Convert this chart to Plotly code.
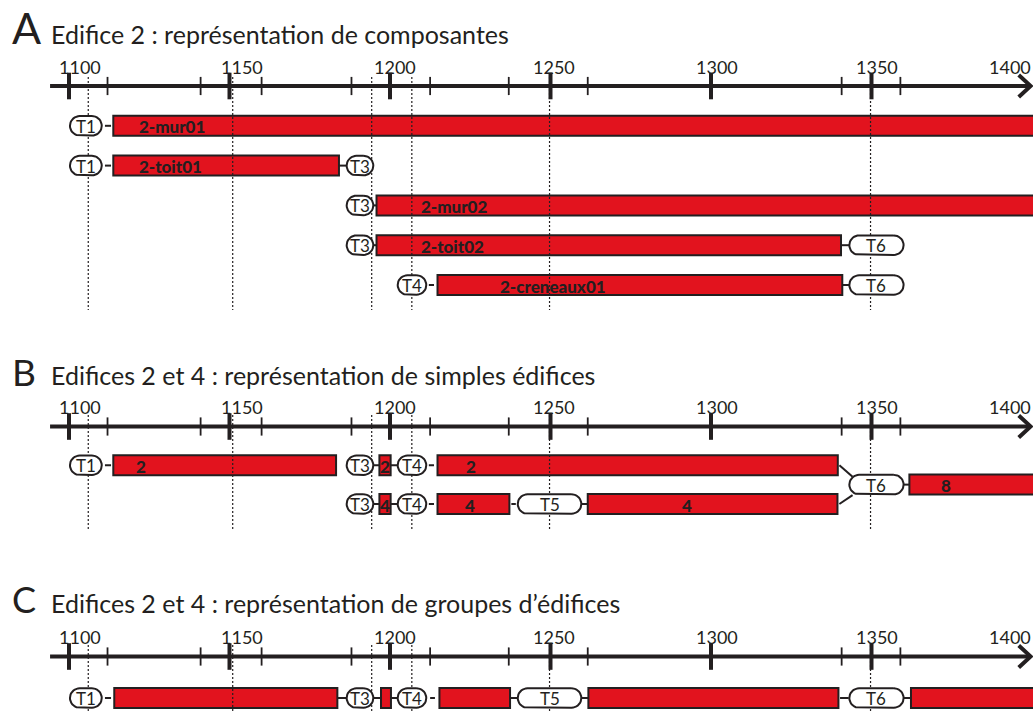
import numpy as np
import plotly.graph_objects as go

INK = "#231F20"
RED = "#E2131E"
FONT = "Lato"
W, H = 1033, 711

# ---------------- data ----------------
major_tick_years = [1100, 1150, 1200, 1250, 1300, 1350]
minor_tick_years = [1112, 1141, 1160, 1188, 1212.5, 1237, 1261.6, 1340.7, 1359]
tick_labels = ["1100", "1150", "1200", "1250", "1300", "1350", "1400"]
tick_label_years = [1103.4, 1153.9, 1201.6, 1251.1, 1301.8, 1351.6, 1393.0]
reference_years = [1106, 1151, 1194.3, 1206.8, 1249.7, 1349.7]
axis_start_year = 1094.1
axis_end_year = 1399.6

pill_names = ["T1", "T3", "T4", "T5", "T6"]
pill_start = [1100.3, 1186.5, 1202.4, 1239.8, 1343.1]
pill_end = [1110.2, 1194.8, 1211.3, 1259.6, 1360.0]

panel_letters = ["A", "B", "C"]
panel_titles = [
    "Edifice 2 : représentation de composantes",
    "Edifices 2 et 4 : représentation de simples édifices",
    "Edifices 2 et 4 : représentation de groupes d’édifices",
]

# Panel A : components of building 2
a_bar_rows = [1, 2, 3, 4, 5]
a_bar_start = [1113.8, 1113.8, 1195.8, 1195.8, 1214.8]
a_bar_end = [1420, 1184.1, 1420, 1340.5, 1340.9]
a_bar_labels = ["2-mur01", "2-toit01", "2-mur02", "2-toit02", "2-creneaux01"]
a_label_years = [1121.1, 1121.1, 1208.9, 1208.9, 1233.5]
a_pill_rows = [1, 2, 2, 3, 4, 4, 5, 5]
a_pill_names = ["T1", "T1", "T3", "T3", "T3", "T6", "T4", "T6"]
a_link_x0 = [1111.2, 1111.2, 1184.1, 1194.8, 1194.8, 1340.5, 1212.1, 1340.9]
a_link_x1 = [1113.1, 1113.1, 1186.5, 1195.8, 1195.8, 1343.1, 1213.7, 1343.1]
a_link_y0 = [1, 2, 2, 3, 4, 4, 5, 5]
a_link_y1 = [1, 2, 2, 3, 4, 4, 5, 5]

# Panel B : simple buildings 2 and 4
b_bar_rows = [1, 1, 1, 1.5, 2, 2, 2]
b_bar_start = [1113.8, 1196.7, 1214.8, 1361.8, 1196.7, 1214.8, 1261.6]
b_bar_end = [1183.2, 1200.2, 1339.5, 1420, 1200.2, 1237.2, 1339.4]
b_bar_labels = ["2", "2", "2", "8", "4", "4", "4"]
b_label_years = [1122.3, 1198.5, 1225.2, 1373.1, 1198.5, 1224.9, 1292.5]
b_pill_rows = [1, 1, 1, 1.5, 2, 2, 2]
b_pill_names = ["T1", "T3", "T4", "T6", "T3", "T4", "T5"]
b_link_x0 = [1111.2, 1194.8, 1200.2, 1212.1, 1340.0, 1360.0, 1194.8, 1200.2, 1212.1, 1237.8, 1259.6, 1340.0]
b_link_x1 = [1113.1, 1196.7, 1202.4, 1213.7, 1344.1, 1361.8, 1196.7, 1202.4, 1213.7, 1239.2, 1261.6, 1344.1]
b_link_y0 = [1, 1, 1, 1, 1, 1.5, 2, 2, 2, 2, 2, 2]
b_link_y1 = [1, 1, 1, 1, 1.3, 1.5, 2, 2, 2, 2, 2, 1.77]

# Panel C : groups of buildings
c_bar_rows = [1, 1, 1, 1, 1]
c_bar_start = [1114.1, 1197.2, 1215.4, 1261.8, 1362.3]
c_bar_end = [1183.6, 1200.3, 1237.4, 1339.7, 1420]
c_bar_labels = []
c_label_years = []
c_pill_rows = [1, 1, 1, 1, 1]
c_pill_names = ["T1", "T3", "T4", "T5", "T6"]
c_link_x0 = [1111.2, 1183.6, 1194.8, 1200.3, 1212.5, 1237.4, 1259.6, 1340.2, 1360.0]
c_link_x1 = [1113.1, 1186.5, 1197.2, 1202.4, 1214.0, 1239.8, 1261.8, 1342.9, 1362.3]
c_link_y0 = [1, 1, 1, 1, 1, 1, 1, 1, 1]
c_link_y1 = [1, 1, 1, 1, 1, 1, 1, 1, 1]

# ---------------- layout geometry (pixels) ----------------
PX_PER_YEAR = 3.21
X0 = 1100 - 69 / PX_PER_YEAR
X1 = X0 + W / PX_PER_YEAR
panel_top_px = [0, 340, 565]
panel_bottom_px = [330, 560, 711]
panel_axis_px = [86.0, 426.5, 656.5]
panel_unit_px = [39.8, 38.75, 41.5]
panel_dot_px = [(77, 310), (415, 530), (645, 720)]
letter_sizes = [43, 37, 36]
baselines = [43.5, 385, 612.5]
BAR_PX = 20
PILL_PX = 19.5

panels = [
    dict(rows=a_bar_rows, start=a_bar_start, end=a_bar_end, labels=a_bar_labels,
         label_x=a_label_years, anchor="left", prow=a_pill_rows, pname=a_pill_names,
         lx0=a_link_x0, lx1=a_link_x1, ly0=a_link_y0, ly1=a_link_y1),
    dict(rows=b_bar_rows, start=b_bar_start, end=b_bar_end, labels=b_bar_labels,
         label_x=b_label_years, anchor="center", prow=b_pill_rows, pname=b_pill_names,
         lx0=b_link_x0, lx1=b_link_x1, ly0=b_link_y0, ly1=b_link_y1),
    dict(rows=c_bar_rows, start=c_bar_start, end=c_bar_end, labels=c_bar_labels,
         label_x=c_label_years, anchor="center", prow=c_pill_rows, pname=c_pill_names,
         lx0=c_link_x0, lx1=c_link_x1, ly0=c_link_y0, ly1=c_link_y1),
]

fig = go.Figure()
annotations = []
layout_axes = {}

for i, p in enumerate(panels):
    s = "" if i == 0 else str(i + 1)
    xa, ya = "x" + s, "y" + s
    unit = panel_unit_px[i]
    ax_px = panel_axis_px[i]
    top_val = (panel_top_px[i] - ax_px) / unit
    bot_val = (panel_bottom_px[i] - ax_px) / unit
    layout_axes["xaxis" + s] = dict(range=[X0, X1], domain=[0, 1], anchor=ya, visible=False, fixedrange=True)
    layout_axes["yaxis" + s] = dict(range=[bot_val, top_val],
                                    domain=[1 - panel_bottom_px[i] / H, 1 - panel_top_px[i] / H],
                                    anchor=xa, visible=False, fixedrange=True)
    common = dict(xaxis=xa, yaxis=ya, hoverinfo="skip", showlegend=False)

    # dotted reference lines
    d0 = (panel_dot_px[i][0] - ax_px) / unit
    d1 = (panel_dot_px[i][1] - ax_px) / unit
    dx, dy = [], []
    for yr in reference_years:
        dx += [yr, yr, None]
        dy += [d0, d1, None]
    fig.add_trace(go.Scatter(x=dx, y=dy, mode="lines",
                             line=dict(color=INK, width=1.2, dash="2px,2px"), **common))

    # time axis line + arrow head
    fig.add_trace(go.Scatter(x=[axis_start_year, axis_end_year], y=[0, 0], mode="lines",
                             line=dict(color=INK, width=4), **common))
    ah_dx = 12 / PX_PER_YEAR
    ah_dy = 11 / unit
    fig.add_trace(go.Scatter(x=[axis_end_year - ah_dx, axis_end_year, axis_end_year - ah_dx],
                             y=[-ah_dy, 0, ah_dy], mode="lines",
                             line=dict(color=INK, width=4), **common))
    fig.add_trace(go.Scatter(x=major_tick_years, y=[0] * len(major_tick_years), mode="markers",
                             marker=dict(symbol="line-ns", size=19, line=dict(color=INK, width=4)),
                             **common))
    fig.add_trace(go.Scatter(x=minor_tick_years, y=[0] * len(minor_tick_years), mode="markers",
                             marker=dict(symbol="line-ns", size=13, line=dict(color=INK, width=1.8)),
                             **common))
    for yr, txt in zip(tick_label_years, tick_labels):
        annotations.append(dict(x=yr, y=0, xref=xa, yref=ya, text=txt, showarrow=False,
                                yshift=19.5, xanchor="center", yanchor="middle",
                                font=dict(family=FONT, size=18, color=INK)))

    # connectors
    cx, cy = [], []
    for a, b, ya0, ya1 in zip(p["lx0"], p["lx1"], p["ly0"], p["ly1"]):
        cx += [a, b, None]
        cy += [ya0, ya1, None]
    fig.add_trace(go.Scatter(x=cx, y=cy, mode="lines", line=dict(color=INK, width=2), **common))

    # bars
    fig.add_trace(go.Bar(orientation="h", y=p["rows"],
                         x=[e - st for st, e in zip(p["start"], p["end"])], base=p["start"],
                         width=BAR_PX / unit,
                         marker=dict(color=RED, line=dict(color=INK, width=2)), **common))
    for lx, ly, txt in zip(p["label_x"], p["rows"], p["labels"]):
        annotations.append(dict(x=lx, y=ly, xref=xa, yref=ya, text=txt,
                                showarrow=False, xanchor=p["anchor"], yanchor="middle", yshift=-1,
                                font=dict(family=FONT, size=17, color=INK, weight=900)))

    # pills (rounded terminus markers)
    h = PILL_PX / 2 / unit
    r = PILL_PX / 2 / PX_PER_YEAR
    t = np.linspace(-np.pi / 2, np.pi / 2, 19)
    sarc = np.linspace(np.pi / 2, 3 * np.pi / 2, 19)
    px_, py_ = [], []
    for row, name in zip(p["prow"], p["pname"]):
        k = pill_names.index(name)
        x0, x1 = pill_start[k], pill_end[k]
        rx = list(x1 - r + r * np.cos(t))
        ry = list(row + h * np.sin(t))
        lx = list(x0 + r + r * np.cos(sarc))
        ly = list(row + h * np.sin(sarc))
        px_ += rx + lx + [rx[0], None]
        py_ += ry + ly + [ry[0], None]
        annotations.append(dict(x=(x0 + x1) / 2, y=row, xref=xa, yref=ya, text=name,
                                showarrow=False, xanchor="center", yanchor="middle", yshift=-0.5,
                                font=dict(family=FONT, size=17, color=INK)))
    fig.add_trace(go.Scatter(x=px_, y=py_, mode="lines", fill="toself", fillcolor="white",
                             line=dict(color=INK, width=2), **common))

    # panel titles
    annotations.append(dict(x=10 / W, y=1 - (baselines[i] + 0.5 - 0.387 * letter_sizes[i]) / H,
                            xref="paper", yref="paper", text=panel_letters[i], showarrow=False,
                            xanchor="left", yanchor="middle",
                            font=dict(family=FONT, size=letter_sizes[i], color=INK)))
    annotations.append(dict(x=48.5 / W, y=1 - (baselines[i] - 0.387 * 25) / H,
                            xref="paper", yref="paper", text=panel_titles[i], showarrow=False,
                            xanchor="left", yanchor="middle",
                            font=dict(family=FONT, size=25, color=INK)))

fig.update_layout(
    width=W, height=H, margin=dict(l=0, r=0, t=0, b=0),
    paper_bgcolor="white", plot_bgcolor="rgba(0,0,0,0)",
    barmode="overlay", showlegend=False, annotations=annotations,
    **layout_axes,
)

fig.write_html("out.html", config={"displayModeBar": False},
               post_script="document.body.style.margin='0';")
